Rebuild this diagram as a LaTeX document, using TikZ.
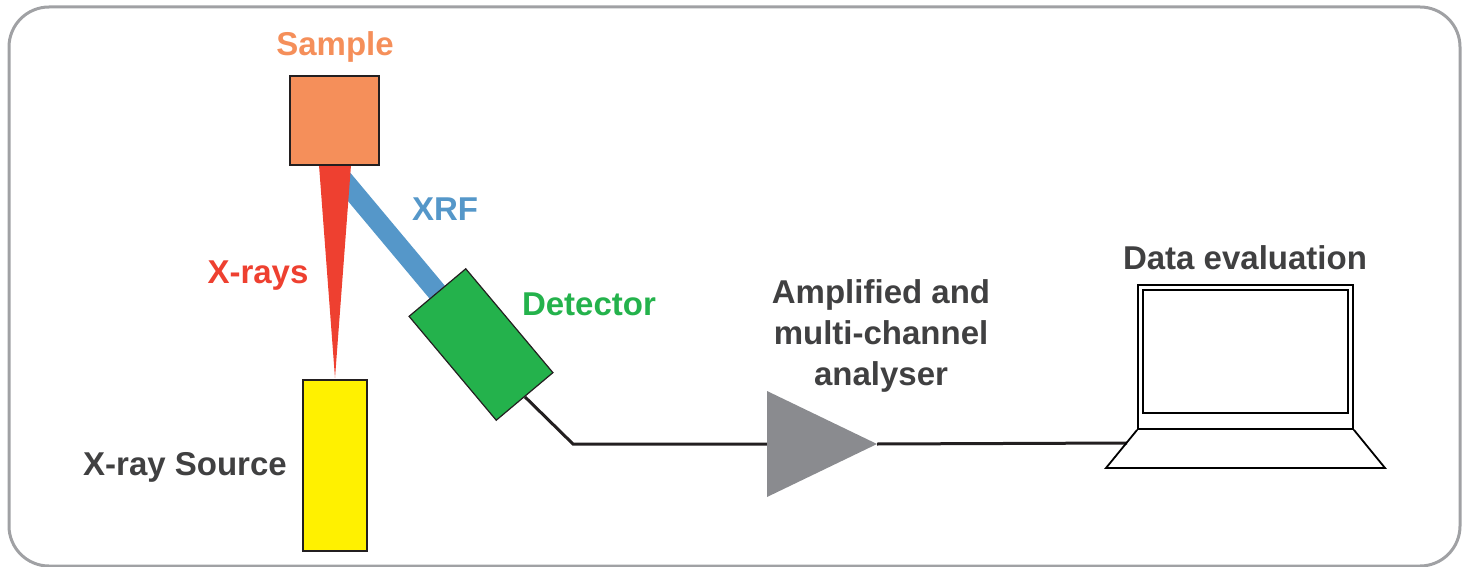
\documentclass[tikz,border=0pt]{standalone}
\usepackage{fontspec}
\setmainfont{Liberation Sans}
\definecolor{frame}{HTML}{A0A1A4}
\definecolor{sampleor}{HTML}{F58F5A}
\definecolor{xred}{HTML}{EE4030}
\definecolor{xblue}{HTML}{5597C9}
\definecolor{dgreen}{HTML}{24B24C}
\definecolor{srcyellow}{HTML}{FFF100}
\definecolor{ampgray}{HTML}{8A8B8F}
\definecolor{dark}{HTML}{404041}
\definecolor{wirecol}{HTML}{231F20}
\begin{document}
\begin{tikzpicture}[x=1pt,y=-1pt,
  lbl/.style={font=\fontsize{33}{37}\selectfont\bfseries, anchor=base, inner sep=0pt},
  box/.style={draw=wirecol, line width=1.2pt, inner sep=0pt},
  wire/.style={draw=wirecol, line width=3pt},
  lap/.style={draw=black, line width=1.8pt, inner sep=0pt}]
\useasboundingbox (0,0) rectangle (1469,567);
% frame
\draw[draw=frame, line width=3pt, rounded corners=40pt] (9,7) rectangle (1460,566);
% key coordinates
\coordinate (detc) at (481,344.5);
\coordinate (xrfend) at (326.6,160);
\coordinate (redl) at (319,165);
\coordinate (redr) at (351,165);
\coordinate (redtip) at (335,378);
% XRF beam
\draw[xblue, line width=20pt] (detc) -- (xrfend);
% X-ray beam
\fill[xred] (redl) -- (redr) -- (redtip) -- cycle;
% sample
\node[box, fill=sampleor, minimum width=89pt, minimum height=89pt] (sample) at (334.5,120.5) {};
% source
\node[box, fill=srcyellow, minimum width=64pt, minimum height=171pt] (source) at (335,465.5) {};
% wires
\coordinate (bend) at (573,444);
\coordinate (ampin) at (767,444);
\coordinate (amptip) at (877,444);
\coordinate (amptop) at (767,391);
\coordinate (ampbot) at (767,497);
\coordinate (lapin) at (1127,443);
% detector
\node[box, fill=dgreen, minimum width=135.6pt, minimum height=74pt, rotate=-50] (detector) at (detc) {};
\draw[wire] (detector.east) -- (bend) -- (ampin);
\draw[wire] (amptip) -- (lapin);
% amplifier
\fill[ampgray] (amptop) -- (amptip) -- (ampbot) -- cycle;
% laptop
\node[lap, minimum width=215pt, minimum height=144pt] (screen) at (1245.5,357) {};
\node[draw=black, line width=1.4pt, inner sep=0pt, minimum width=205pt, minimum height=123pt] (display) at (1245.5,351.5) {};
\coordinate (basebl) at (1106,468);
\coordinate (basebr) at (1385,468);
\draw[lap, line join=miter] (screen.south west) -- (basebl) -- (basebr) -- (screen.south east);
% labels
\node[lbl, text=sampleor] (samplelbl) at (335,56) {Sample};
\node[lbl, text=xblue] (xrflbl) at (445,220) {XRF};
\node[lbl, text=xred] (xraylbl) at (258,283) {X-rays};
\node[lbl, text=dgreen] (detlbl) at (589,315) {Detector};
\node[lbl, text=dark] (srclbl) at (185,475) {X-ray Source};
\node[lbl, text=dark] (datalbl) at (1245,269) {Data evaluation};
\node[lbl, text=dark] (amplbla) at (881,303) {Amplified and};
\node[lbl, text=dark] (amplblb) at (881,344) {multi-channel};
\node[lbl, text=dark] (amplblc) at (881,385) {analyser};
\end{tikzpicture}
\end{document}
